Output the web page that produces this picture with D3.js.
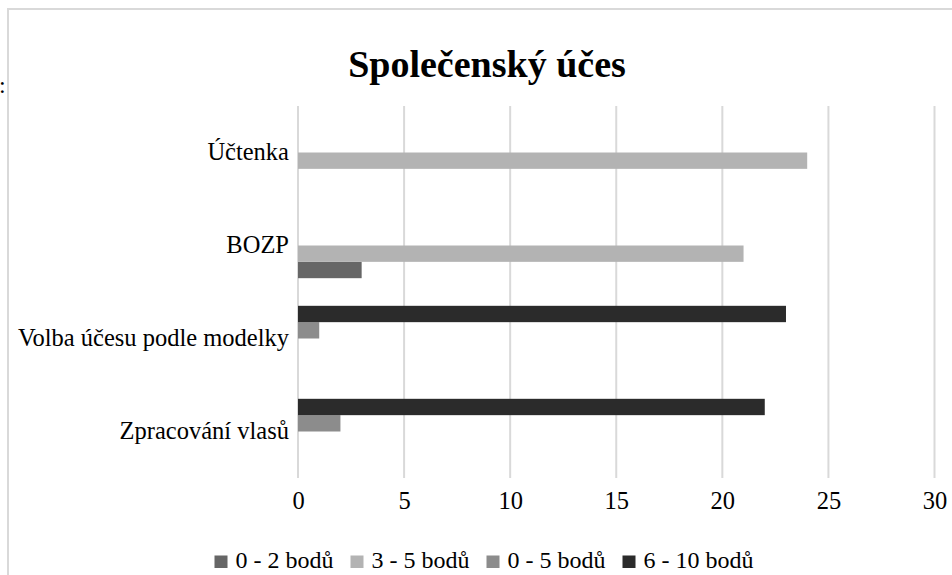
<!DOCTYPE html>
<html>
<head>
<meta charset="utf-8">
<script src="https://cdn.jsdelivr.net/npm/d3@7"></script>
<style>
html,body{margin:0;padding:0;background:#fff;}
svg{display:block;font-family:"Liberation Serif","Times New Roman",serif;}
</style>
</head>
<body>
<svg id="chart" width="952" height="575"></svg>
<script>
const title = "Společenský účes";
const categories = ["Účtenka", "BOZP", "Volba účesu podle modelky", "Zpracování vlasů"];
const seriesNames = ["0 - 2 bodů", "3 - 5 bodů", "0 - 5 bodů", "6 - 10 bodů"];
const seriesColors = ["#666666", "#b3b3b3", "#8c8c8c", "#2b2b2b"];
const values02 = [0, 3, 0, 0];
const values35 = [24, 21, 0, 0];
const values05 = [0, 0, 1, 2];
const values610 = [0, 0, 23, 22];
const tickValues = [0, 5, 10, 15, 20, 25, 30];

const seriesValues = [values02, values35, values05, values610];
const FONT = "'Liberation Serif', 'Times New Roman', serif";

const svg = d3.select("#chart");

// chart area border
svg.append("rect").attr("x", 8).attr("y", 9).attr("width", 970).attr("height", 600)
  .attr("fill", "none").attr("stroke", "#d9d9d9").attr("stroke-width", 2);

// stray colon at left edge (partly outside, as in the reference)
svg.append("text").attr("x", -1).attr("y", 93).attr("font-size", 24).attr("fill", "#000").text(":");

const x = d3.scaleLinear().domain([0, 30]).range([298, 934.5]);
const y = d3.scaleBand().domain(categories).range([106, 478]).paddingInner(0).paddingOuter(0);
// within each category: top to bottom = last series first (Excel order)
const ySub = d3.scaleBand().domain([3, 2, 1, 0]).range([0, y.bandwidth()]).paddingInner(0).paddingOuter(0.845);

// gridlines
svg.append("g").selectAll("line").data(tickValues).join("line")
  .attr("x1", d => x(d)).attr("x2", d => x(d))
  .attr("y1", 106).attr("y2", 478)
  .attr("stroke", "#d9d9d9").attr("stroke-width", 2);

// bars
const groups = svg.append("g").selectAll("g").data(categories).join("g")
  .attr("transform", d => `translate(0,${y(d)})`);
groups.selectAll("rect").data((c, ci) => seriesValues.map((vals, si) => ({si, v: vals[ci]})))
  .join("rect")
  .attr("x", x(0))
  .attr("y", d => ySub(d.si))
  .attr("width", d => x(d.v) - x(0))
  .attr("height", ySub.bandwidth())
  .attr("fill", d => seriesColors[d.si]);

// x axis tick labels
const xAxis = d3.axisBottom(x).tickValues(tickValues).tickSize(0).tickPadding(0);
const gx = svg.append("g").attr("transform", "translate(0,492)").call(xAxis);
gx.attr("font-family", FONT);
gx.select(".domain").remove();
gx.selectAll("text").attr("font-size", 24.5).attr("fill", "#000").attr("dy", "0.71em");

// y axis category labels
const yAxis = d3.axisLeft(y).tickSize(0).tickPadding(0);
const gy = svg.append("g").attr("transform", "translate(289,0)").call(yAxis);
gy.attr("font-family", FONT);
gy.select(".domain").remove();
gy.selectAll("text").attr("font-size", 24.5).attr("fill", "#000");

// title
svg.append("text").attr("x", 487).attr("y", 77).attr("text-anchor", "middle")
  .attr("font-size", 38).attr("font-weight", "bold").attr("fill", "#000").text(title);

// legend (centred under the chart)
const legend = svg.append("g");
let lx = 0;
seriesNames.forEach((name, i) => {
  const g = legend.append("g").attr("transform", `translate(${lx},0)`);
  g.append("rect").attr("x", 0).attr("y", -12.5).attr("width", 13).attr("height", 12.5).attr("fill", seriesColors[i]);
  const t = g.append("text").attr("x", 21).attr("y", 0).attr("font-size", 24).attr("fill", "#000").text(name);
  lx += 21 + t.node().getComputedTextLength() + (i < seriesNames.length - 1 ? 17 : 0);
});
legend.attr("transform", `translate(${484 - lx / 2},568)`);
</script>
</body>
</html>
